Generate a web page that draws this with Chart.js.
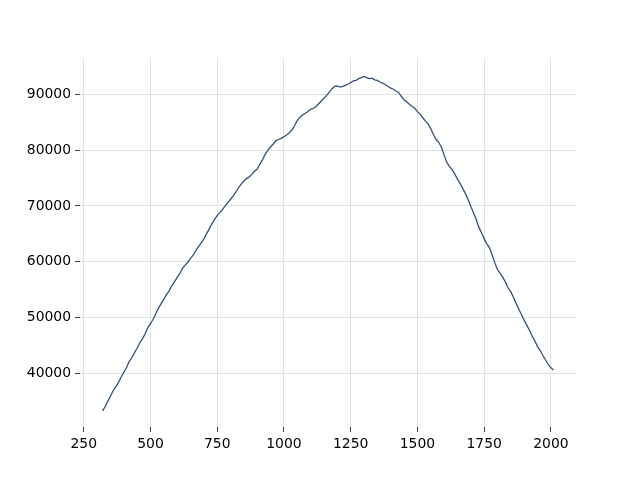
<!DOCTYPE html>
<html>
<head>
<meta charset="utf-8">
<script src="https://cdn.jsdelivr.net/npm/chart.js@4"></script>
<style>
  html, body { margin: 0; padding: 0; background: #fff; }
  #wrap { width: 640px; height: 480px; }
</style>
</head>
<body>
<div id="wrap"><canvas id="lineChart" width="640" height="480"></canvas></div>
<script>
// x positions and values
const xValues = [
  320, 330, 340, 350, 360, 370, 380, 390, 400, 410, 420, 430, 440, 450, 460, 470, 480, 490,
  500, 510, 520, 530, 540, 550, 560, 570, 580, 590, 600, 610, 620, 630, 640, 650, 660, 670,
  680, 690, 700, 710, 720, 730, 740, 750, 760, 770, 780, 790, 800, 810, 820, 830, 840, 850,
  860, 870, 880, 890, 900, 910, 920, 930, 940, 950, 960, 970, 980, 990, 1000, 1010, 1020,
  1030, 1040, 1050, 1060, 1070, 1080, 1090, 1100, 1110, 1120, 1130, 1140, 1150, 1160, 1170,
  1180, 1190, 1200, 1210, 1220, 1230, 1240, 1250, 1260, 1270, 1280, 1290, 1300, 1310, 1320,
  1330, 1340, 1350, 1360, 1370, 1380, 1390, 1400, 1410, 1420, 1430, 1440, 1450, 1460, 1470,
  1480, 1490, 1500, 1510, 1520, 1530, 1540, 1550, 1560, 1570, 1580, 1590, 1600, 1610, 1620,
  1630, 1640, 1650, 1660, 1670, 1680, 1690, 1700, 1710, 1720, 1730, 1740, 1750, 1760, 1770,
  1780, 1790, 1800, 1810, 1820, 1830, 1840, 1850, 1860, 1870, 1880, 1890, 1900, 1910, 1920,
  1930, 1940, 1950, 1960, 1970, 1980, 1990, 2000, 2010
];
const yValues = [
  33300, 34000, 35000, 35900, 36900, 37600, 38400, 39300, 40200, 41000, 42100, 42800, 43700, 44500, 45500, 46200, 47100, 48200,
  48900, 49700, 50700, 51700, 52500, 53300, 54100, 54800, 55700, 56400, 57200, 57900, 58800, 59400, 59900, 60600, 61200, 62000,
  62700, 63400, 64100, 65000, 65900, 66800, 67600, 68300, 68800, 69400, 70000, 70600, 71200, 71800, 72500, 73300, 73900, 74500,
  74900, 75200, 75700, 76200, 76600, 77500, 78300, 79300, 80000, 80600, 81100, 81700, 81900, 82100, 82400, 82700, 83100,
  83600, 84400, 85300, 85900, 86300, 86600, 86900, 87300, 87500, 87800, 88300, 88800, 89300, 89800, 90400,
  91000, 91400, 91500, 91300, 91400, 91600, 91800, 92100, 92400, 92500, 92800, 93000, 93200, 93000, 92800,
  92900, 92600, 92500, 92200, 92000, 91700, 91400, 91100, 90900, 90600, 90300, 89600, 89000, 88600, 88200,
  87800, 87500, 86900, 86400, 85800, 85200, 84700, 83800, 82800, 81900, 81400, 80500, 79100, 77800, 77100,
  76500, 75700, 74800, 74000, 73100, 72200, 71100, 69900, 68800, 67600, 66200, 65200, 64100, 63200, 62500,
  61200, 59800, 58600, 57900, 57200, 56300, 55300, 54600, 53600, 52500, 51500, 50500, 49500, 48600, 47700,
  46700, 45800, 44800, 44100, 43200, 42400, 41600, 41000, 40600
];
const xTicks = [250, 500, 750, 1000, 1250, 1500, 1750, 2000];
const yTicks = [40000, 50000, 60000, 70000, 80000, 90000];

const points = [];
for (var i = 0; i < xValues.length; i++) {
  points.push({ x: xValues[i], y: yValues[i] });
}

const tickFont = { family: 'DejaVu Sans', size: 13.9 };

const ctx = document.getElementById('lineChart').getContext('2d');
new Chart(ctx, {
  type: 'line',
  data: {
    datasets: [{
      data: points,
      borderColor: '#34507a',
      borderWidth: 1.3,
      pointRadius: 0,
      tension: 0,
      fill: false
    }]
  },
  options: {
    responsive: false,
    animation: false,
    layout: { padding: { left: 0, right: 64, top: 58, bottom: 0 } },
    plugins: { legend: { display: false }, tooltip: { enabled: false } },
    scales: {
      x: {
        type: 'linear',
        min: 236,
        max: 2094,
        afterBuildTicks: axis => { axis.ticks = xTicks.map(v => ({ value: v })); },
        afterFit: axis => { axis.height = 53; },
        border: { display: false },
        grid: { color: '#e2e2e2', lineWidth: 1, tickColor: '#444', tickLength: 5 },
        ticks: { color: '#000', font: tickFont, padding: 4, maxRotation: 0, callback: v => String(v) }
      },
      y: {
        type: 'linear',
        min: 30400,
        max: 96500,
        afterBuildTicks: axis => { axis.ticks = yTicks.map(v => ({ value: v })); },
        afterFit: axis => { axis.width = 80; },
        border: { display: false },
        grid: { color: '#e2e2e2', lineWidth: 1, tickColor: '#444', tickLength: 5 },
        ticks: { color: '#000', font: tickFont, padding: 4, callback: v => String(v) }
      }
    }
  }
});
</script>
</body>
</html>
